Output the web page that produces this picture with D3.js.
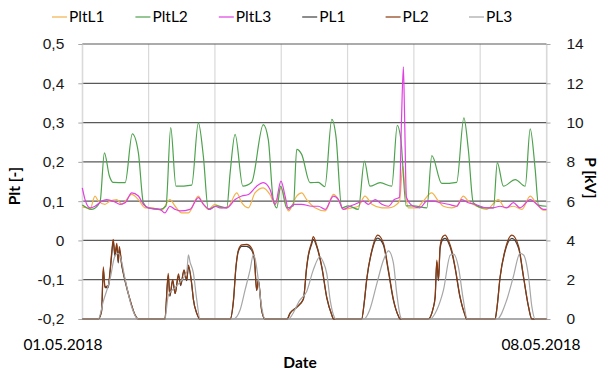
<!DOCTYPE html>
<html>
<head>
<meta charset="utf-8">
<script src="https://cdn.jsdelivr.net/npm/d3@7"></script>
<style>
  body { margin: 0; background: #fff; }
  svg { display: block; font-family: Lato, "Open Sans", sans-serif; }
  .axis path { stroke: #d9d9d9; }
  .axis line { stroke: #a6a6a6; }
  .axis text { font-size: 15.5px; fill: #1a1a1a; }
  .grid-h line { stroke: #595959; stroke-width: 1.2; }
  .grid-v line { stroke: #d9d9d9; stroke-width: 1.2; }
</style>
</head>
<body>
<svg id="chart"></svg>
<script>
// hours since 01.05.2018 00:00, value
const pltL1 = [[0,0.085],[1.6,0.083],[2.8,0.079],[4.6,0.113],[5.8,0.100],[8.2,0.092],[10.0,0.100],[12.5,0.104],[14.3,0.092],[17.9,0.117],[20.3,0.104],[22.7,0.083],[25.1,0.083],[28.7,0.077],[31.7,0.104],[33.6,0.087],[36.0,0.070],[38.4,0.070],[42.0,0.113],[43.2,0.100],[45.6,0.079],[48.0,0.092],[50.5,0.083],[52.9,0.087],[55.9,0.121],[57.7,0.096],[60.1,0.083],[62.5,0.121],[65.5,0.134],[67.9,0.117],[69.8,0.092],[71.9,0.134],[74.6,0.075],[77.6,0.113],[79.4,0.121],[81.2,0.104],[84.2,0.083],[87.9,0.075],[90.9,0.117],[92.7,0.104],[94.5,0.079],[97.5,0.083],[99.9,0.087],[102.3,0.113],[104.8,0.092],[108.4,0.083],[110.8,0.083],[112.9,0.087],[114.8,0.100],[116.0,0.189],[116.8,0.130],[118.0,0.083],[121.0,0.083],[123.4,0.100],[126.4,0.121],[128.9,0.100],[130.7,0.087],[133.7,0.083],[135.5,0.087],[137.9,0.113],[139.7,0.100],[142.8,0.087],[146.4,0.079],[150.6,0.104],[153.0,0.083],[156.0,0.087],[159.1,0.079],[162.1,0.113],[164.5,0.092],[166.9,0.077],[168,0.077]];

const pltL2 = [[0,0.090],[3.4,0.079],[6.4,0.097],[8.0,0.223],[9.8,0.164],[11.1,0.148],[15.5,0.147],[18.1,0.271],[20.3,0.223],[22.1,0.096],[23.9,0.083],[28.1,0.079],[30.3,0.088],[32.0,0.287],[33.9,0.138],[39.6,0.141],[42.0,0.299],[43.8,0.215],[45.6,0.079],[48.7,0.088],[52.3,0.083],[53.5,0.172],[55.3,0.270],[58.1,0.138],[61.3,0.148],[65.5,0.295],[67.3,0.257],[69.1,0.104],[70.4,0.083],[71.8,0.138],[74.0,0.083],[76.4,0.088],[77.6,0.232],[79.4,0.219],[82.4,0.147],[85.4,0.148],[87.8,0.137],[90.3,0.308],[91.8,0.265],[93.9,0.083],[96.3,0.088],[99.9,0.079],[102.1,0.202],[104.1,0.138],[107.8,0.147],[112.0,0.138],[114.0,0.293],[115.3,0.257],[117.2,0.088],[119.8,0.088],[124.7,0.083],[126.5,0.216],[130.1,0.145],[135.5,0.148],[138.1,0.312],[139.7,0.232],[141.5,0.096],[145.2,0.083],[148.8,0.083],[150.2,0.198],[152.4,0.138],[156.7,0.155],[160.3,0.138],[162.1,0.284],[163.9,0.181],[165.1,0.090],[168,0.087]];

const pltL3 = [[0,0.134],[1.0,0.104],[2.8,0.083],[4.6,0.087],[7.0,0.100],[8.8,0.104],[11.2,0.100],[13.6,0.092],[15.5,0.096],[17.9,0.121],[20.3,0.113],[22.1,0.092],[23.9,0.083],[28.1,0.079],[29.9,0.070],[31.7,0.087],[33.6,0.079],[35.4,0.075],[39.0,0.079],[42.0,0.109],[43.8,0.092],[46.2,0.079],[48.0,0.087],[49.8,0.083],[52.3,0.083],[55.3,0.104],[57.7,0.113],[60.1,0.117],[63.1,0.138],[65.5,0.147],[67.9,0.130],[69.8,0.092],[71.9,0.151],[73.4,0.113],[74.6,0.079],[76.4,0.092],[79.4,0.092],[83.0,0.087],[85.4,0.087],[87.9,0.079],[90.9,0.113],[92.7,0.104],[94.5,0.079],[96.9,0.087],[98.7,0.092],[101.7,0.100],[103.5,0.092],[106.0,0.104],[108.4,0.092],[110.8,0.087],[112.9,0.104],[114.8,0.110],[115.5,0.300],[116.2,0.442],[116.6,0.330],[117.3,0.110],[119.8,0.087],[122.2,0.083],[124.7,0.100],[127.1,0.100],[129.5,0.096],[132.5,0.092],[135.5,0.087],[137.3,0.104],[139.7,0.096],[142.2,0.092],[144.0,0.087],[146.4,0.083],[148.8,0.083],[151.2,0.087],[153.6,0.083],[156.0,0.096],[158.4,0.083],[162.1,0.104],[164.5,0.092],[166.9,0.079],[168,0.079]];

const pl1 = [[0,0],[5.8,0],[7.0,0.4],[7.6,2.5],[8.2,1.6],[9.4,1.6],[10.0,2.3],[10.6,3.2],[11.2,3.95],[11.8,3.2],[12.5,3.75],[13.0,2.85],[13.4,3.55],[14.3,2.7],[15.5,1.9],[17.3,0.95],[19.1,0.2],[20.3,0],
  [29.9,0],[31.1,2.2],[31.7,1.15],[32.7,1.95],[33.6,1.3],[34.8,2.2],[35.6,1.7],[36.8,2.45],[37.8,1.95],[38.4,2.65],[39.6,1.75],[40.2,1.0],[41.4,0.3],[42.6,0],
  [53.5,0],[54.7,0.9],[55.6,2.6],[56.5,3.45],[57.7,3.7],[59.5,3.7],[61.3,3.5],[62.3,3.0],[63.1,1.45],[63.7,1.95],[64.9,0.45],[66.1,0],
  [74.1,0],[75.2,0.3],[77.6,0.6],[80.0,1.0],[81.2,2.6],[81.8,3.2],[83.0,3.8],[83.6,4.05],[84.8,3.7],[86.7,2.6],[88.5,1.05],[90.3,0.2],[90.9,0],
  [101.1,0],[102.0,0.8],[102.9,1.95],[104.8,3.45],[106.9,4.12],[109.0,3.75],[110.8,2.4],[112.6,0.95],[114.4,0.15],[115.0,0],
  [125.2,0],[126.9,0.5],[127.7,1.1],[128.3,2.9],[128.9,1.95],[129.5,3.6],[130.5,4.05],[131.3,4.1],[132.5,3.9],[133.7,3.4],[134.9,2.6],[136.7,1.1],[138.5,0.2],[139.1,0],
  [149.4,0],[150.1,0.6],[151.2,2.1],[153.0,3.45],[155.5,4.1],[157.9,3.6],[159.7,2.1],[161.5,0.6],[162.7,0],[168,0]];

const pl2 = [[0,0],[5.8,0],[7.0,0.46],[7.6,2.66],[8.2,1.64],[9.4,1.7],[10.0,2.4],[10.6,3.34],[11.2,4.06],[11.8,3.34],[12.5,3.85],[13.0,2.92],[13.4,3.68],[14.3,2.75],[15.5,1.98],[17.3,0.97],[19.1,0.2],[20.3,0],
  [29.9,0],[31.1,2.32],[31.7,1.2],[32.7,2.0],[33.6,1.3],[34.8,2.3],[35.6,1.75],[36.8,2.5],[37.8,2.0],[38.4,2.75],[39.6,1.8],[40.2,1.0],[41.4,0.3],[42.6,0],
  [53.5,0],[54.7,0.97],[55.6,2.66],[56.5,3.51],[57.7,3.77],[59.5,3.8],[61.3,3.6],[62.3,3.1],[63.1,1.47],[63.7,2.0],[64.9,0.46],[66.1,0],
  [74.1,0],[75.2,0.3],[77.6,0.6],[80.0,1.0],[81.2,2.66],[81.8,3.26],[83.0,3.9],[83.6,4.19],[84.8,3.77],[86.7,2.66],[88.5,1.1],[90.3,0.2],[90.9,0],
  [101.1,0],[102.0,0.8],[102.9,2.0],[104.8,3.51],[106.9,4.27],[109.0,3.85],[110.8,2.49],[112.6,1.0],[114.4,0.15],[115.0,0],
  [125.2,0],[126.9,0.5],[127.7,1.15],[128.3,3.0],[128.9,2.0],[129.5,3.7],[130.5,4.2],[131.3,4.27],[132.5,4.0],[133.7,3.5],[134.9,2.66],[136.7,1.15],[138.5,0.2],[139.1,0],
  [149.4,0],[150.1,0.6],[151.2,2.15],[153.0,3.51],[155.5,4.27],[157.9,3.7],[159.7,2.15],[161.5,0.63],[162.7,0],[168,0]];

const pl3 = [[0,0],[5.8,0],[7.6,0.9],[10.0,2.0],[11.8,3.2],[13.0,3.34],[14.3,2.9],[15.1,2.3],[16.1,1.64],[17.9,0.6],[20.3,0],
  [29.9,0],[31.1,1.2],[33.6,1.6],[35.5,1.9],[37.8,2.4],[38.4,3.26],[39.0,2.9],[40.2,2.35],[41.4,1.0],[42.6,0],
  [54.7,0],[57.1,0.46],[58.9,1.47],[60.7,2.49],[61.9,3.26],[62.5,3.1],[63.7,2.0],[64.9,0.63],[66.1,0],
  [74.5,0],[78.8,0.97],[81.2,1.4],[83.6,2.5],[86.0,3.17],[87.2,2.9],[88.5,2.3],[89.7,0.97],[90.9,0.2],[91.8,0],
  [102.0,0],[104.0,0.46],[106.6,1.8],[109.0,3.0],[110.8,3.47],[112.6,2.85],[113.8,1.3],[115.0,0.2],[115.7,0],
  [125.8,0],[128.3,0.46],[130.7,1.47],[133.2,3.26],[134.4,3.3],[136.1,2.66],[137.9,0.97],[139.3,0],
  [150.1,0],[153.6,0.97],[156.0,2.15],[158.4,3.34],[159.7,3.26],[161.5,2.15],[162.7,0.63],[163.9,0],[168,0]];

const seriesNames = ['PltL1', 'PltL2', 'PltL3', 'PL1', 'PL2', 'PL3'];
const seriesData = [pltL1, pltL2, pltL3, pl1, pl2, pl3];
const seriesAxis = ['left', 'left', 'left', 'right', 'right', 'right'];
const seriesColors = ['#f2b34a', '#4ea24e', '#e040e0', '#404040', '#8b3a10', '#a6a6a6'];

const leftTicks = [-0.2, -0.1, 0, 0.1, 0.2, 0.3, 0.4, 0.5];
const rightTicks = [0, 2, 4, 6, 8, 10, 12, 14];
const dayTicks = [0, 24, 48, 72, 96, 120, 144, 168];
const startLabel = '01.05.2018';
const endLabel = '08.05.2018';

class PltChart {
    constructor(_config) {
        this.config = {
            parentElement: _config.parentElement,
            containerWidth: 603,
            containerHeight: 376,
            margin: { top: 44, right: 56.5, bottom: 57, left: 82.3 }
        };
        this.initVis();
    }

    initVis() {
        let vis = this;
        const m = vis.config.margin;
        vis.width = vis.config.containerWidth - m.left - m.right;
        vis.height = vis.config.containerHeight - m.top - m.bottom;

        vis.xScale = d3.scaleLinear().domain([0, 168]).range([0, vis.width]);
        vis.yLeft = d3.scaleLinear().domain([-0.2, 0.5]).range([vis.height, 0]);
        vis.yRight = d3.scaleLinear().domain([0, 14]).range([vis.height, 0]);

        const locale = d3.formatLocale({ decimal: ',', thousands: '.', grouping: [3], currency: ['', ''], minus: '-' });
        const fmt = locale.format('.1~f');

        vis.svg = d3.select(vis.config.parentElement)
            .attr('width', vis.config.containerWidth)
            .attr('height', vis.config.containerHeight);

        vis.chart = vis.svg.append('g')
            .attr('transform', `translate(${m.left},${m.top})`);

        // vertical day grid
        vis.chart.append('g').attr('class', 'grid-v')
            .selectAll('line')
            .data(dayTicks)
            .join('line')
            .attr('x1', d => vis.xScale(d)).attr('x2', d => vis.xScale(d))
            .attr('y1', 0).attr('y2', vis.height);

        // horizontal grid
        vis.chart.append('g').attr('class', 'grid-h')
            .selectAll('line')
            .data(leftTicks)
            .join('line')
            .attr('x1', 0).attr('x2', vis.width)
            .attr('y1', d => vis.yLeft(d)).attr('y2', d => vis.yLeft(d));

        vis.chart.append('g')
            .attr('class', 'axis y-axis')
            .call(d3.axisLeft(vis.yLeft).tickValues(leftTicks).tickFormat(fmt).tickSize(4).tickPadding(14).tickSizeOuter(0));

        vis.chart.append('g')
            .attr('class', 'axis y-axis-right')
            .attr('transform', `translate(${vis.width},0)`)
            .call(d3.axisRight(vis.yRight).tickValues(rightTicks).tickSize(4).tickPadding(16).tickSizeOuter(0));

        vis.chart.selectAll('.axis .tick text').style('font-size', '15.5px');

        // axis titles
        vis.svg.append('text')
            .attr('transform', 'translate(15,186) rotate(-90)')
            .attr('text-anchor', 'middle').attr('dy', '0.35em')
            .style('font-weight', 'bold').style('font-size', '15.5px')
            .text('Plt [-]');

        vis.svg.append('text')
            .attr('transform', 'translate(590,178) rotate(90)')
            .attr('text-anchor', 'middle').attr('dy', '0.35em')
            .style('font-weight', 'bold').style('font-size', '15.5px')
            .text('P [kV]');

        vis.svg.append('text')
            .attr('x', 63).attr('y', 350).attr('text-anchor', 'middle')
            .style('font-size', '15.5px')
            .text(startLabel);
        vis.svg.append('text')
            .attr('x', 541).attr('y', 350).attr('text-anchor', 'middle')
            .style('font-size', '15.5px')
            .text(endLabel);
        vis.svg.append('text')
            .attr('x', 300).attr('y', 368).attr('text-anchor', 'middle')
            .style('font-weight', 'bold').style('font-size', '15.5px')
            .text('Date');

        vis.renderVis();
    }

    renderVis() {
        let vis = this;

        const lineFor = axis => d3.line()
            .x(d => vis.xScale(d[0]))
            .y(d => (axis === 'left' ? vis.yLeft : vis.yRight)(d[1]))
            .curve(d3.curveMonotoneX);

        vis.chart.append('g')
            .selectAll('path')
            .data(seriesData)
            .join('path')
            .attr('fill', 'none')
            .attr('stroke', (d, i) => seriesColors[i])
            .attr('stroke-width', 1.2)
            .attr('stroke-linejoin', 'round')
            .attr('d', (d, i) => lineFor(seriesAxis[i])(d));

        // legend
        const legend = vis.svg.append('g').attr('class', 'legend');
        const item = legend.selectAll('g')
            .data(seriesNames)
            .join('g')
            .attr('transform', (d, i) => `translate(${52 + i * 83.4},17)`);
        item.append('line')
            .attr('x1', 0).attr('x2', 15)
            .attr('stroke', (d, i) => seriesColors[i])
            .attr('stroke-width', 1.2);
        item.append('text')
            .attr('x', 17).attr('dy', '0.35em')
            .style('font-size', '15.5px')
            .text(d => d);
    }
}

new PltChart({ parentElement: '#chart' });
</script>
</body>
</html>
